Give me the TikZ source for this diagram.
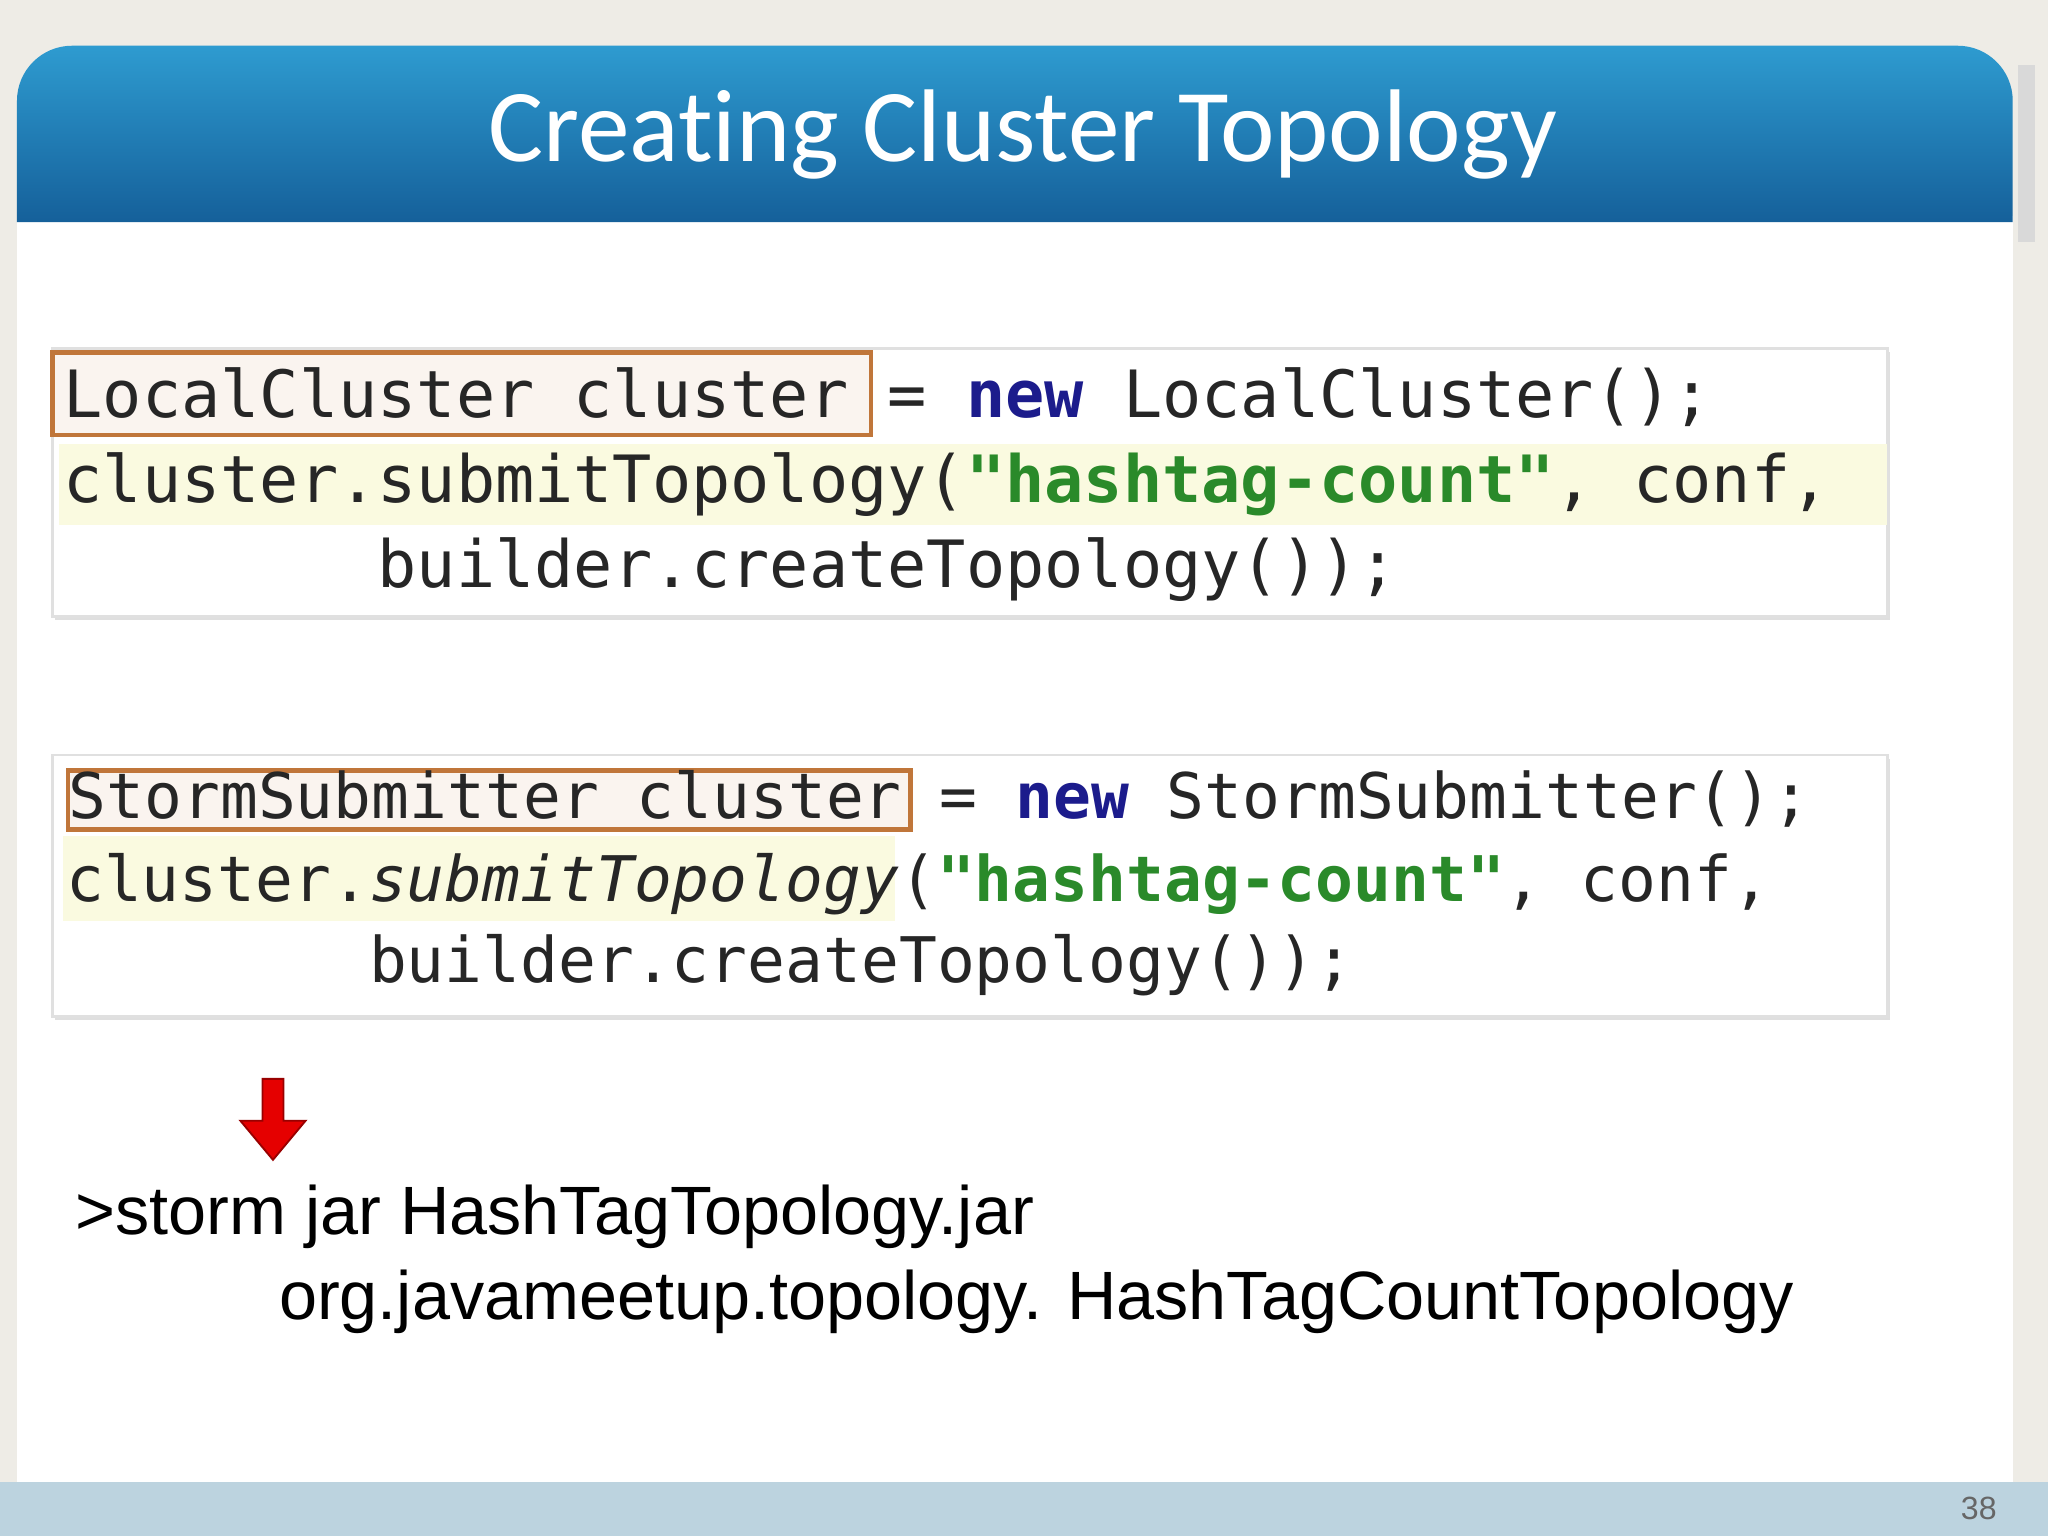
\documentclass[tikz,border=0pt]{standalone}
\usepackage{fontspec}
\setmainfont{Liberation Sans}
\newfontfamily\codefont{DejaVu Sans Mono}
\newfontfamily\titlefont[Ligatures=NoCommon]{Carlito}
\usetikzlibrary{shadows,arrows.meta}
\definecolor{bgc}{HTML}{EEECE6}
\definecolor{hdtop}{HTML}{2E9BD0}
\definecolor{hdbot}{HTML}{15609A}
\definecolor{strip}{HTML}{BCD3DF}
\definecolor{hl}{HTML}{FAFAE0}
\definecolor{frame}{HTML}{C0763A}
\definecolor{navy}{HTML}{1C1C8C}
\definecolor{strg}{HTML}{2A8A2A}
\tikzset{
 codebox/.style={fill=white,draw=black!12,line width=0.6pt,inner sep=0pt,
   drop shadow={opacity=0.25,shadow xshift=0.6pt,shadow yshift=-0.8pt}},
 code/.style={anchor=base west,inner sep=0pt,font=\codefont\fontsize{14.2pt}{16pt}\selectfont,text=black!85},
 codeb/.style={code,font=\codefont\fontsize{13.7pt}{16pt}\selectfont},
 obox/.style={draw=frame,line width=1pt,fill=frame!8},
 bottomtxt/.style={anchor=base west,inner sep=0pt,font=\fontsize{14.9pt}{16pt}\selectfont}
}
\newcommand{\kw}[1]{\textcolor{navy}{\bfseries #1}}
\newcommand{\st}[1]{\textcolor{strg}{\bfseries #1}}
\begin{document}
\begin{tikzpicture}[x=0.1mm,y=-0.1mm]
\useasboundingbox (0,0) rectangle (1568,1176);
\fill[bgc] (0,0) rectangle (1568,1176);
\fill[black!15] (1545,50) rectangle (1558,185);
\fill[white] (13,165) rectangle (1541,1135);
\shade[top color=hdtop,bottom color=hdbot] (13,170) [rounded corners=12pt] -- (13,35) -- (1541,35) [sharp corners] -- (1541,170) -- cycle;
\fill[strip] (0,1135) rectangle (1568,1176);
\node[text=black!60,font=\fontsize{7pt}{8pt}\selectfont] (pg) at (1515,1155) {38};
\node[text=white,font=\titlefont\fontsize{22.5pt}{27pt}\selectfont] (title) at (783,103) {Creating Cluster Topology};
% box 1
\node[codebox,minimum width=140.5mm,minimum height=20.5mm] (b1) at (742.5,369.5) {};
\fill[hl] (45,340) rectangle (1445,402);
\draw[obox] (40,270) rectangle (667,333);
\node[code] (l1) at (48,320) {LocalCluster cluster = \kw{new} LocalCluster();};
\node[code] (l2) at (48,385) {cluster.submitTopology(\st{"hashtag-count"}, conf,};
\node[code] (l3) at (48,450) {\phantom{xxxxxxxx}builder.createTopology());};
% box 2
\node[codebox,minimum width=140.5mm,minimum height=20mm] (b2) at (742.5,678) {};
\fill[hl] (48,640) rectangle (685,705);
\draw[obox] (52,590) rectangle (697,635);
\node[codeb] (m1) at (52,627) {StormSubmitter cluster = \kw{new} StormSubmitter();};
\node[codeb] (m2) at (50,690) {cluster.\textit{submitTopology}(\st{"hashtag-count"}, conf,};
\node[codeb] (m3) at (50,752) {\phantom{xxxxxxxx}builder.createTopology());};
% arrow
\fill[red!90!black,draw=red!60!black] (201,826) -- (217,826) -- (217,858) -- (234,858) -- (209,888) -- (184,858) -- (201,858) -- cycle;
\node[bottomtxt] (t1) at (57,945) {>storm jar HashTagTopology.jar};
\node[bottomtxt] (t2) at (213,1010) {org.javameetup.topology. HashTagCountTopology};
\end{tikzpicture}
\end{document}
